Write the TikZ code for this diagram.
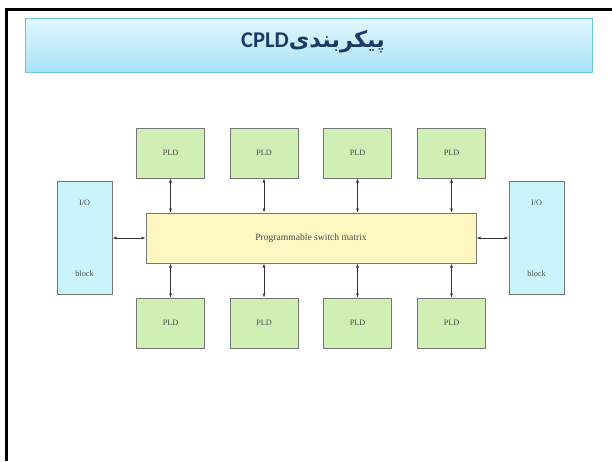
\documentclass[tikz,border=0pt]{standalone}
\usepackage{fontspec}
\setmainfont{Liberation Serif}
\newfontfamily\arabicfont[Script=Arabic]{DejaVu Sans}
\newfontfamily\titlefont{Carlito}
\TeXXeTstate=1
\usetikzlibrary{arrows.meta}
\definecolor{framec}{HTML}{000000}
\definecolor{titletop}{HTML}{E2F7FD}
\definecolor{titlebot}{HTML}{A8E3F7}
\definecolor{titleedge}{HTML}{6EC3DF}
\definecolor{titletext}{HTML}{1B3A66}
\definecolor{pldfill}{HTML}{CFEFB4}
\definecolor{iofill}{HTML}{C9F4FA}
\definecolor{swfill}{HTML}{FFF7C2}
\definecolor{boxedge}{HTML}{767676}
\definecolor{lbl}{HTML}{4A4A4A}
\definecolor{arr}{HTML}{333333}
\tikzset{
  x=1pt, y=-1pt,
  box/.style={draw=boxedge, line width=1pt, inner sep=0pt, text=lbl,
    font=\fontsize{8.2}{10}\selectfont},
  pld/.style={box, fill=pldfill, minimum width=68pt, minimum height=50pt},
  iobox/.style={box, fill=iofill, minimum width=55pt, minimum height=113pt},
  swbox/.style={box, fill=swfill, minimum width=330pt, minimum height=50pt,
    font=\fontsize{9.6}{11}\selectfont},
  iolabel/.style={inner sep=0pt, text=lbl, font=\fontsize{8.2}{10}\selectfont},
  link/.style={draw=arr, line width=0.6pt, {Latex[length=4pt,width=3pt]}-{Latex[length=4pt,width=3pt]}},
  framel/.style={draw=framec, line width=2.6pt},
}
\begin{document}
\begin{tikzpicture}
\useasboundingbox (0,0) rectangle (612,461);
\fill[white] (0,0) rectangle (612,461);
% frame
\draw[framel] (4.9,9.6) -- (612,9.6);
\draw[framel] (6.2,8.3) -- (6.2,461);
% title bar
\node[draw=titleedge, line width=0.8pt, top color=titletop, bottom color=titlebot,
      minimum width=567pt, minimum height=54pt, inner sep=0pt] (title) at (308.5,45) {};
\node[text=titletext, inner sep=0pt, anchor=base] (ttext) at (313,47)
  {\beginR{\arabicfont\bfseries\fontsize{22.5}{26}\selectfont پیکربندی}{\titlefont\bfseries\fontsize{22.5}{26}\selectfont\beginL CPLD\endL}\endR};
% switch matrix
\node[swbox] (sw) at (311,238) {Programmable switch matrix};
% PLDs
\node[pld] (t1) at (170.5,153) {PLD};
\node[pld] (t2) at (264,153) {PLD};
\node[pld] (t3) at (357.5,153) {PLD};
\node[pld] (t4) at (451.5,153) {PLD};
\node[pld] (b1) at (170.5,323) {PLD};
\node[pld] (b2) at (264,323) {PLD};
\node[pld] (b3) at (357.5,323) {PLD};
\node[pld] (b4) at (451.5,323) {PLD};
% I/O blocks
\node[iobox] (iol) at (84.5,237.5) {};
\node[iolabel] (iolt) at (84.5,203) {I/O};
\node[iolabel] (iolb) at (84.5,274) {block};
\node[iobox] (ior) at (536.5,237.5) {};
\node[iolabel] (iort) at (536.5,203) {I/O};
\node[iolabel] (iorb) at (536.5,274) {block};
% connectors
\foreach \n in {t1,t2,t3,t4} { \draw[link] (\n.south) -- (\n.south |- sw.north); }
\foreach \n in {b1,b2,b3,b4} { \draw[link] (\n.north) -- (\n.north |- sw.south); }
\draw[link] (iol.east |- sw.west) -- (sw.west);
\draw[link] (sw.east) -- (ior.west |- sw.east);
\end{tikzpicture}
\end{document}
